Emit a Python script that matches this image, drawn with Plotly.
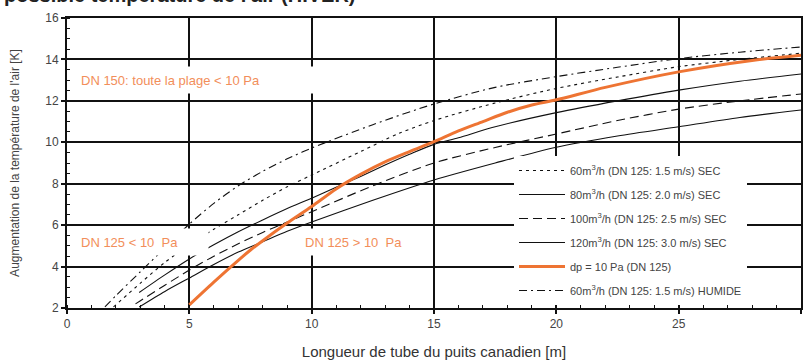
import plotly.graph_objects as go

# ---- data ----
x_60sec = [1.9, 3, 4, 5, 6, 7, 8, 9, 10, 12, 13.57, 15, 17.5, 20, 22.5, 25, 27.5, 30]
y_60sec = [2.05, 3.2, 4.2, 5.05, 5.8, 6.5, 7.2, 7.85, 8.42, 9.55, 10.43, 11.05, 11.9, 12.6, 13.15, 13.65, 14.0, 14.3]

x_80sec = [2.95, 4, 5, 6, 7, 8, 9, 10, 11, 12, 13, 14, 15, 16, 17.5, 20, 22.5, 25, 27.5, 30]
y_80sec = [2.75, 3.6, 4.37, 5.05, 5.68, 6.25, 6.8, 7.3, 7.83, 8.35, 8.9, 9.42, 9.9, 10.22, 10.75, 11.43, 12.0, 12.52, 12.95, 13.3]

x_100sec = [2.8, 3, 4, 5, 6, 7, 8, 9, 10, 12.5, 15, 17.5, 20, 22.5, 25, 27.5, 30]
y_100sec = [2.2, 2.35, 3.1, 3.83, 4.5, 5.1, 5.65, 6.15, 6.65, 7.9, 9.0, 9.75, 10.4, 11.05, 11.6, 12.0, 12.33]

x_120sec = [2.95, 4, 5, 6, 7, 8, 9, 10, 12.5, 15, 17.5, 20, 22.5, 25, 27.5, 30]
y_120sec = [2.05, 2.8, 3.45, 4.1, 4.7, 5.2, 5.7, 6.15, 7.2, 8.18, 9.0, 9.76, 10.3, 10.75, 11.2, 11.56]

x_dp10 = [5, 6, 7, 7.5, 8, 9, 10, 11, 12, 13, 14, 15, 16, 17, 18, 19, 20, 22, 25, 28, 30]
y_dp10 = [2.15, 3.25, 4.3, 4.8, 5.25, 6.1, 6.9, 7.75, 8.45, 9.05, 9.55, 10.03, 10.55, 11.0, 11.45, 11.8, 12.05, 12.65, 13.4, 13.95, 14.2]

x_60hum = [1.55, 2, 3, 4, 5, 6, 7, 8, 9, 10, 12.5, 15, 17.5, 20, 22.5, 25, 27.5, 30]
y_60hum = [2.05, 2.6, 3.75, 4.9, 6.05, 7.05, 7.9, 8.6, 9.2, 9.72, 10.85, 11.85, 12.65, 13.17, 13.62, 14.04, 14.35, 14.6]

legend_names = [
    "60m<sup>3</sup>/h (DN 125: 1.5 m/s) SEC",
    "80m<sup>3</sup>/h (DN 125: 2.0 m/s) SEC",
    "100m<sup>3</sup>/h (DN 125: 2.5 m/s) SEC",
    "120m<sup>3</sup>/h (DN 125: 3.0 m/s) SEC",
    "dp = 10 Pa (DN 125)",
    "60m<sup>3</sup>/h (DN 125: 1.5 m/s) HUMIDE",
]

x_ticks = [0, 5, 10, 15, 20, 25, 30]
y_ticks = [2, 4, 6, 8, 10, 12, 14, 16]

x_title = "Longueur de tube du puits canadien [m]"
y_title = "Augmentation de la température de l'air [K]"
top_title = "possible température de l'air (HIVER)"
note_dn150 = "DN 150: toute la plage < 10 Pa"
note_lt = "DN 125 < 10  Pa"
note_gt = "DN 125 > 10  Pa"

ORANGE = "#EE7433"
NOTE = "#F28E5A"
TXT = "#444444"
FONT = "Liberation Sans, Arial, sans-serif"

series = [
    (x_60sec, y_60sec, dict(color="#111", width=1.1, dash="3px,4px")),
    (x_80sec, y_80sec, dict(color="#111", width=1.1, dash="solid")),
    (x_100sec, y_100sec, dict(color="#111", width=1.1, dash="9px,5px")),
    (x_120sec, y_120sec, dict(color="#111", width=1.1, dash="solid")),
    (x_dp10, y_dp10, dict(color=ORANGE, width=3, dash="solid")),
    (x_60hum, y_60hum, dict(color="#111", width=1.1, dash="8px,4px,2px,4px")),
]

fig = go.Figure()
for i, (xs, ys, ln) in enumerate(series):
    fig.add_trace(go.Scatter(
        x=xs, y=ys, mode="lines", name=legend_names[i], line=ln,
        line_shape="spline", line_smoothing=0.8, legendgroup=f"g{i}",
    ))

axis_common = dict(
    showgrid=True, gridcolor="#111", gridwidth=1.8,
    showline=True, linecolor="#111", linewidth=1.8, mirror=True,
    ticks="outside", ticklen=4, tickcolor="#111", tickwidth=1.5,
    tickfont=dict(family=FONT, size=12, color=TXT),
    zeroline=False, fixedrange=True,
)

fig.update_xaxes(
    range=[0, 30], tickvals=x_ticks, **axis_common,
    minor=dict(dtick=1, ticks="inside", ticklen=3, tickcolor="#111", tickwidth=1, showgrid=False),
    title=dict(text=x_title, font=dict(family=FONT, size=15, color="#333"), standoff=16),
)
fig.update_yaxes(
    range=[2, 16], tickvals=y_ticks, **axis_common,
    minor=dict(dtick=0.5, ticks="inside", ticklen=3, tickcolor="#111", tickwidth=1, showgrid=False),
    title=dict(text=y_title, font=dict(family=FONT, size=12, color=TXT), standoff=23),
)

note_font = dict(family=FONT, size=13, color=NOTE)
fig.add_annotation(x=0.33, y=13.0, xref="x", yref="y", text=note_dn150,
                   showarrow=False, xanchor="left", yanchor="middle", align="left",
                   width=235, height=16, bgcolor="white", borderpad=5, font=note_font)
fig.add_annotation(x=0.33, y=5.2, xref="x", yref="y", text=note_lt,
                   showarrow=False, xanchor="left", yanchor="middle", align="left",
                   width=122, height=16, bgcolor="white", borderpad=5, font=note_font)
fig.add_annotation(x=9.5, y=5.2, xref="x", yref="y", text=note_gt,
                   showarrow=False, xanchor="left", yanchor="middle", align="left",
                   width=105, height=16, bgcolor="white", borderpad=5, font=note_font)
fig.add_annotation(x=-0.088, y=1.0362, xref="paper", yref="paper", text="<b>" + top_title + "</b>",
                   showarrow=False, xanchor="left", yanchor="bottom",
                   font=dict(family=FONT, size=20, color="#222"))

fig.update_layout(
    width=807, height=362,
    margin=dict(l=67, r=4, t=18, b=54),
    paper_bgcolor="white", plot_bgcolor="white",
    showlegend=True,
    legend=dict(
        x=0.609, y=0.524, xanchor="left", yanchor="top",
        bgcolor="white", borderwidth=0,
        font=dict(family=FONT, size=11, color=TXT),
        tracegroupgap=5, traceorder="grouped", itemwidth=46,
    ),
)

fig.write_html("out.html")
